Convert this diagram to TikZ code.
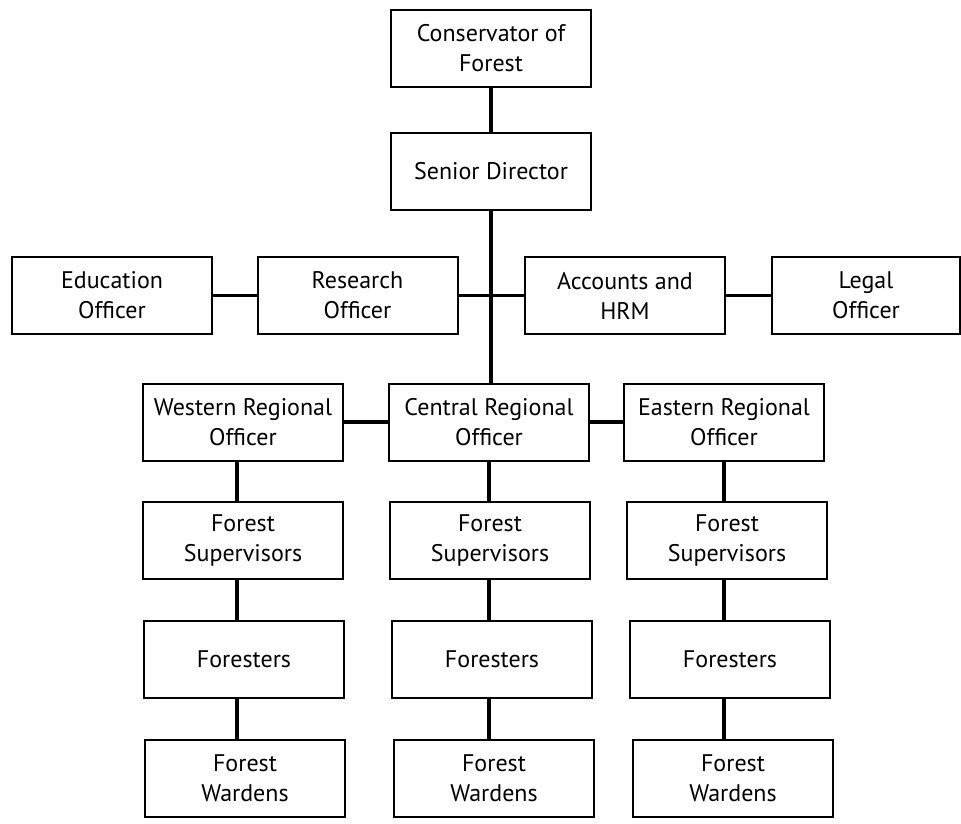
\documentclass[tikz,border=0pt]{standalone}
\usepackage{fontspec}
\setmainfont{PT Sans}
\usetikzlibrary{calc}

\tikzset{
  box/.style={draw, line width=1pt, minimum width=100pt, minimum height=38.5pt,
    inner sep=0pt, align=center, font=\fontsize{12}{15}\selectfont},
  link/.style={line width=2.2pt},
  sidelink/.style={line width=1.2pt}
}

\begin{document}
\begin{tikzpicture}[x=0.5pt, y=-0.5pt]
		%%%%% START %%%%%
		\useasboundingbox (0,0) rectangle (961,823);
		
		\node[box] (cons) at (491, 48.5) {Conservator of\\Forest};
		\node[box] (sdir) at (491, 171.5) {Senior Director};
		\draw[link] (cons.south) -- (sdir.north);
		
		\node[box] (edu) at (112, 295.5) {Education\\Officer};
		\node[box] (res) at (357.5, 295.5) {Research\\Officer};
		\node[box] (acc) at (625, 295.5) {Accounts and\\HRM};
		\node[box, minimum width=94pt] (leg) at (866, 295.5) {Legal\\Officer};
		
		\draw[sidelink] (edu.east) -- (res.west);
		\draw[sidelink] (res.east) -- (acc.west);
		\draw[sidelink] (acc.east) -- (leg.west);
		
		\node[box] (wreg) at (243, 422) {Western Regional\\Officer};
		\node[box] (creg) at (489, 422) {Central Regional\\Officer};
		\node[box] (ereg) at (724, 422) {Eastern Regional\\Officer};
		
		\draw[link] (sdir.south) -- (sdir.south |- creg.north);
		\draw[link] (wreg.east) -- (creg.west);
		\draw[link] (creg.east) -- (ereg.west);
		
		\node[box] (wsup) at (243, 540.5) {Forest\\Supervisors};
		\node[box] (csup) at (490, 540.5) {Forest\\Supervisors};
		\node[box] (esup) at (727, 540.5) {Forest\\Supervisors};
		
		\node[box] (wfor) at (244, 659.5) {Foresters};
		\node[box] (cfor) at (492, 659.5) {Foresters};
		\node[box] (efor) at (730, 659.5) {Foresters};
		
		\node[box] (wwar) at (245, 778.5) {Forest\\Wardens};
		\node[box] (cwar) at (494, 778.5) {Forest\\Wardens};
		\node[box] (ewar) at (733, 778.5) {Forest\\Wardens};
		
		\draw[link] ([xshift=-3pt]wreg.south) -- ([xshift=-3pt]wreg.south |- wsup.north);
		\draw[link] ([xshift=-3pt]wreg.south |- wsup.south) -- ([xshift=-3pt]wreg.south |- wfor.north);
		\draw[link] ([xshift=-3pt]wreg.south |- wfor.south) -- ([xshift=-3pt]wreg.south |- wwar.north);
		
		\draw[link] (creg.south) -- (creg.south |- csup.north);
		\draw[link] (creg.south |- csup.south) -- (creg.south |- cfor.north);
		\draw[link] (creg.south |- cfor.south) -- (creg.south |- cwar.north);
		
		\draw[link] (ereg.south) -- (ereg.south |- esup.north);
		\draw[link] (ereg.south |- esup.south) -- (ereg.south |- efor.north);
		\draw[link] (ereg.south |- efor.south) -- (ereg.south |- ewar.north);
		
		%%%%% END %%%%%
\end{tikzpicture}
\end{document}
